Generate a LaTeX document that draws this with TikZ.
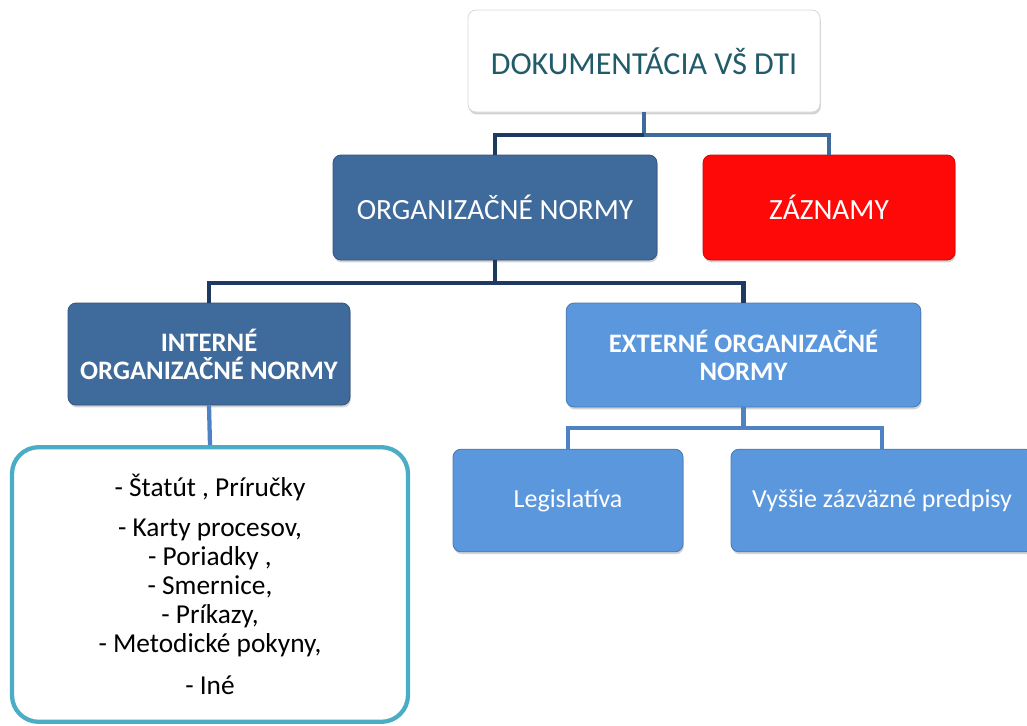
\documentclass[tikz,border=0pt]{standalone}
\usepackage{fontspec}
\setmainfont{Carlito}
\usetikzlibrary{shadows}

\definecolor{steel}{HTML}{3E6A9C}
\definecolor{sky}{HTML}{5B97DD}
\definecolor{zred}{HTML}{FF0808}
\definecolor{navy}{HTML}{1F3A62}
\definecolor{midblue}{HTML}{3F6A9E}
\definecolor{lineblue}{HTML}{4F82C2}
\definecolor{framecol}{HTML}{4BACC6}
\definecolor{titletxt}{HTML}{215A69}

\tikzset{
  boxbase/.style={rounded corners=6pt, inner sep=0pt, align=center,
    drop shadow={shadow xshift=0.6pt, shadow yshift=-1.8pt, opacity=0.35}},
  darkbox/.style={boxbase, fill=steel, draw=steel!80!black, line width=0.6pt, text=white},
  lightbox/.style={boxbase, fill=sky, draw=sky!80!black, line width=0.6pt, text=white},
  redbox/.style={boxbase, fill=zred, draw=zred!80!black, line width=0.6pt, text=white},
  titlebox/.style={boxbase, fill=white, draw=black!15, line width=0.6pt, text=titletxt},
  listbox/.style={rounded corners=20pt, draw=framecol, line width=3.2pt, fill=white,
    inner sep=0pt, align=center},
  link/.style={line width=3.2pt},
}

\begin{document}
\begin{tikzpicture}[x=0.75pt, y=-0.75pt]
\useasboundingbox (0,0) rectangle (1027,725);

% boxes
\node[titlebox, minimum width=264pt, minimum height=76.5pt,
      font=\fontsize{24}{28}\selectfont] (top) at (644,61) {DOKUMENTÁCIA VŠ DTI};
\node[darkbox, minimum width=243pt, minimum height=78.75pt,
      font=\fontsize{22}{26}\selectfont] (org) at (495,207.5) {ORGANIZAČNÉ NORMY};
\node[redbox, minimum width=189pt, minimum height=78.75pt,
      font=\fontsize{22}{26}\selectfont] (zaz) at (829,207.5) {ZÁZNAMY};
\node[darkbox, minimum width=211.5pt, minimum height=76.5pt,
      font=\bfseries\fontsize{20}{21}\selectfont] (int) at (209,354)
      {INTERNÉ\\ORGANIZAČNÉ NORMY};
\node[lightbox, minimum width=266pt, minimum height=78pt,
      font=\bfseries\fontsize{20}{21}\selectfont] (ext) at (743.5,355)
      {EXTERNÉ ORGANIZAČNÉ\\NORMY};
\node[lightbox, minimum width=172.5pt, minimum height=77pt,
      font=\fontsize{19.5}{23}\selectfont] (leg) at (568,500.5) {Legislatíva};
\node[lightbox, minimum width=226.5pt, minimum height=77pt,
      font=\fontsize{19.5}{23}\selectfont] (vys) at (882,500.5) {Vyššie zázväzné predpisy};
\node[listbox, minimum width=297pt, minimum height=206pt,
      font=\fontsize{20.5}{21.75}\selectfont] (list) at (210,584.5)
      {- Štatút , Príručky\\[8pt]
       - Karty procesov,\\
       - Poriadky ,\\
       - Smernice,\\
       - Príkazy,\\
       - Metodické pokyny,\\[9.5pt]
       - Iné};

% connectors
\coordinate (j1) at (644,135);
\coordinate (j2) at (495,283);
\coordinate (j3) at (743.5,428);

\draw[link, midblue] (top.south) -- (j1);
\draw[link, navy] (j1) -| (org.north);
\draw[link, midblue] (j1) -| (zaz.north);

\draw[link, navy] (org.south) -- (j2);
\draw[link, navy] (j2) -| (int.north);
\draw[link, navy] (j2) -| (ext.north);

\draw[link, lineblue] (int.south) -- (list.north);

\draw[link, lineblue] (ext.south) -- (j3);
\draw[link, lineblue] (j3) -| (leg.north);
\draw[link, lineblue] (j3) -| (vys.north);
\end{tikzpicture}
\end{document}
